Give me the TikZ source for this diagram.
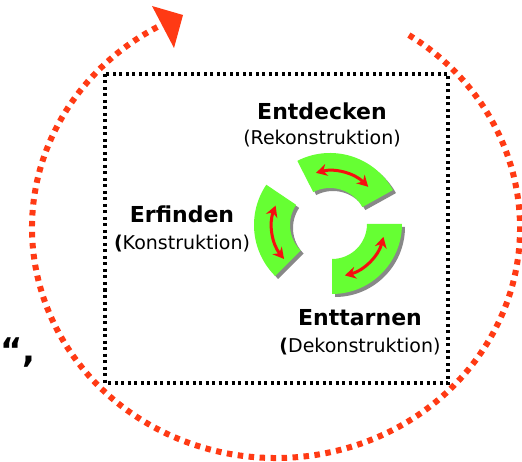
\documentclass[tikz,border=0pt]{standalone}
\usepackage{fontspec}
\setmainfont{DejaVu Sans}
\usetikzlibrary{arrows.meta}
\definecolor{ringgreen}{RGB}{102,255,51}
\definecolor{loopred}{RGB}{255,58,20}
\definecolor{shadowgray}{RGB}{136,136,136}
\definecolor{arrowred}{RGB}{245,15,15}
\newcommand{\ringpiece}[6]{%
  ([shift={(#3:#6)}]#1,#2) arc[start angle=#3,end angle=#4,radius=#6]
  -- ([shift={(#4:#5)}]#1,#2) arc[start angle=#4,end angle=#3,radius=#5] -- cycle}
\begin{document}
\begin{tikzpicture}[x=1pt,y=1pt,
  title/.style={font=\bfseries\fontsize{22}{26}\selectfont, inner sep=0pt, anchor=base},
  subtitle/.style={font=\fontsize{19}{23}\selectfont, inner sep=0pt, anchor=base},
  seg/.style={fill=ringgreen},
  segshadow/.style={fill=shadowgray},
  twoway/.style={draw=arrowred, line width=3pt,
    {Stealth[length=11pt,width=12pt]}-{Stealth[length=11pt,width=12pt]}},
  dotbox/.style={draw=black, line width=3.5pt, dash pattern=on 3pt off 3.5pt},
  loopline/.style={draw=loopred, line width=6pt, dash pattern=on 5.5pt off 5.5pt}
]
\useasboundingbox (0,0) rectangle (522,461);

% big dotted cycle with arrow head
\draw[loopline] ([shift={(57:244 and 230)}]276,233)
  arc[start angle=57,end angle=-241,x radius=244,y radius=230];
\fill[loopred] (152,455) -- (183,446) -- (174,413) -- cycle;

% dotted frame
\draw[dotbox] (105,387) rectangle (448,78);

% ring pieces: shadows
\fill[segshadow, shift={(3,-3)}] \ringpiece{330}{236}{29}{117}{37}{72};
\fill[segshadow, shift={(3,-3)}] \ringpiece{326}{236}{146}{225}{36}{72};
\fill[segshadow, shift={(3,-3)}] \ringpiece{332}{237}{-90}{0}{35}{70};
% ring pieces
\fill[seg] \ringpiece{330}{236}{29}{117}{37}{72};
\fill[seg] \ringpiece{326}{236}{146}{225}{36}{72};
\fill[seg] \ringpiece{332}{237}{-90}{0}{35}{70};

% double arrows
\draw[twoway] ([shift={(105:54)}]330,236) arc[start angle=105,end angle=45,radius=54];
\draw[twoway] ([shift={(159:54)}]326,236) arc[start angle=159,end angle=219,radius=54];
\draw[twoway] ([shift={(-14:53)}]332,237) arc[start angle=-14,end angle=-76,radius=53];

% labels
\node[title] (entdecken) at (322,341) {Entdecken};
\node[subtitle] (rekon) at (322,316) {(Rekonstruktion)};
\node[title] (erfinden) at (182,238) {Erfinden};
\node[subtitle] (kon) at (182,211) {{\bfseries(}Konstruktion)};
\node[title] (enttarnen) at (360,136) {Enttarnen};
\node[subtitle] (dekon) at (360,109) {{\bfseries(}Dekonstruktion)};
\node[font=\bfseries\fontsize{34}{38}\selectfont, inner sep=0pt, anchor=base west] (quote) at (0,99) {“,};
\end{tikzpicture}
\end{document}
